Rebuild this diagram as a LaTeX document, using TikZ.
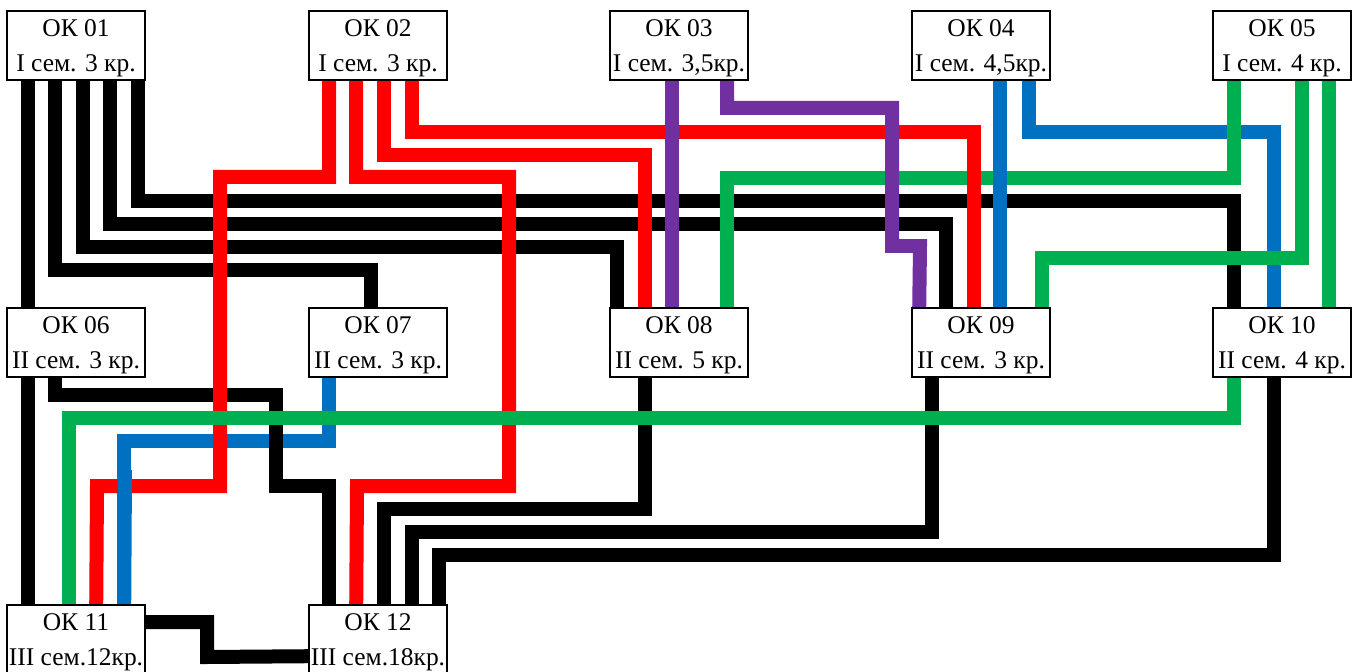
\documentclass[tikz,border=0pt]{standalone}
\usepackage{fontspec}
\setmainfont{Liberation Serif}
\usetikzlibrary{calc,backgrounds}
\definecolor{WireRed}{RGB}{255,0,0}
\definecolor{WireGreen}{RGB}{0,176,80}
\definecolor{WireBlue}{RGB}{0,112,192}
\definecolor{WirePurple}{RGB}{112,48,160}

\begin{document}
\begin{tikzpicture}[x=0.02cm,y=-0.02cm,
  okbox/.style={draw,line width=0.9pt,fill=white,minimum width=2.76cm,
    minimum height=1.38cm,inner sep=0pt,align=center,text depth=0pt,
    font=\fontsize{14.5}{19.8}\selectfont},
  wire/.style={line width=0.28cm,line join=miter}]
\useasboundingbox (0,0) rectangle (1359,672);

% first semester
\node[okbox] (ok01) at (76,45.5) {ОК 01\\I сем. 3 кр.};
\node[okbox] (ok02) at (378,45.5) {ОК 02\\I сем. 3 кр.};
\node[okbox] (ok03) at (679,45.5) {ОК 03\\I сем. 3,5кр.};
\node[okbox] (ok04) at (981,45.5) {ОК 04\\I сем. 4,5кр.};
\node[okbox] (ok05) at (1282,45.5) {ОК 05\\I сем. 4 кр.};

% second semester
\node[okbox] (ok06) at (76,342.5) {ОК 06\\II сем. 3 кр.};
\node[okbox] (ok07) at (378,342.5) {ОК 07\\II сем. 3 кр.};
\node[okbox] (ok08) at (679,342.5) {ОК 08\\II сем. 5 кр.};
\node[okbox] (ok09) at (981,342.5) {ОК 09\\II сем. 3 кр.};
\node[okbox] (ok10) at (1282,342.5) {ОК 10\\II сем. 4 кр.};

% third semester
\node[okbox] (ok11) at (76,639.5) {ОК 11\\III сем.12кр.};
\node[okbox] (ok12) at (378,639.5) {ОК 12\\III сем.18кр.};

\begin{scope}[on background layer]
\draw[wire,WireBlue] ($(ok07.south west)+(21,0)$) -- ++(0,63) -| ($(ok11.north west)+(118,0)$);

% black links
\draw[wire] ($(ok01.south west)+(22,0)$) -- ($(ok06.north west)+(22,0)$);
\draw[wire] ($(ok01.south west)+(49,0)$) -- ++(0,189) -| ($(ok07.north west)+(63,0)$);
\draw[wire] ($(ok01.south west)+(77,0)$) -- ++(0,166) -| ($(ok08.north west)+(8,0)$);
\draw[wire] ($(ok01.south west)+(104,0)$) -- ++(0,143) -| ($(ok09.north west)+(35,0)$);
\draw[wire] ($(ok01.south west)+(132,0)$) -- ++(0,120) -| ($(ok10.north west)+(22,0)$);
\draw[wire] ($(ok06.south west)+(22,0)$) -- ($(ok11.north west)+(22,0)$);
\draw[wire] ($(ok06.south west)+(49,0)$) -- ++(0,17) -| (276,486) -| ($(ok12.north west)+(21,0)$);
\draw[wire] ($(ok08.south west)+(36,0)$) -- ++(0,131) -| ($(ok12.north west)+(76,0)$);
\draw[wire] ($(ok09.south west)+(21,0)$) -- ++(0,154) -| ($(ok12.north west)+(104,0)$);
\draw[wire] ($(ok10.south west)+(62,0)$) -- ++(0,177) -| ($(ok12.north west)+(131,0)$);
\draw[wire] ($(ok11.north east)+(0,18)$) -| (207,657) -- ($(ok12.north west)+(0,52)$);

\draw[wire,WireBlue] ($(ok04.south west)+(118,0)$) -- ++(0,51) -| ($(ok10.north west)+(62,0)$);

% green from OK 05
\draw[wire,WireGreen] ($(ok05.south west)+(22,0)$) -- ++(0,97) -| ($(ok08.north west)+(118,0)$);
\draw[wire,WireGreen] ($(ok05.south west)+(90,0)$) -- ++(0,177) -| ($(ok09.north west)+(131,0)$);
\draw[wire,WireGreen] ($(ok05.south west)+(117,0)$) -- ($(ok10.north west)+(117,0)$);

% red from OK 02
\draw[wire,WireRed] ($(ok02.south west)+(21,0)$) |- (220,177) |- (97,486) -- ($(ok11.north west)+(90,0)$);
\draw[wire,WireRed] ($(ok02.south west)+(48,0)$) |- (509,177) |- (357,486) -- ($(ok12.north west)+(48,0)$);
\draw[wire,WireRed] ($(ok02.south west)+(76,0)$) -- ++(0,74) -| ($(ok08.north west)+(36,0)$);
\draw[wire,WireRed] ($(ok02.south west)+(104,0)$) -- ++(0,51) -| ($(ok09.north west)+(63,0)$);

\draw[wire,WireBlue] ($(ok04.south west)+(89,0)$) -- ($(ok09.north west)+(89,0)$);
\draw[wire,WireGreen] ($(ok10.south west)+(22,0)$) -- ++(0,40) -| ($(ok11.north west)+(63,0)$);

% purple from OK 03
\draw[wire,WirePurple] ($(ok03.south west)+(63,0)$) -- ($(ok08.north west)+(63,0)$);
\draw[wire,WirePurple] ($(ok03.south west)+(118,0)$) |- (892,108) |- (920,246) -- ($(ok09.north west)+(8,0)$);

% blue again over the red
\draw[wire,WireBlue] (125,470) -- ($(ok11.north west)+(118,0)$);
\end{scope}

\end{tikzpicture}
\end{document}
